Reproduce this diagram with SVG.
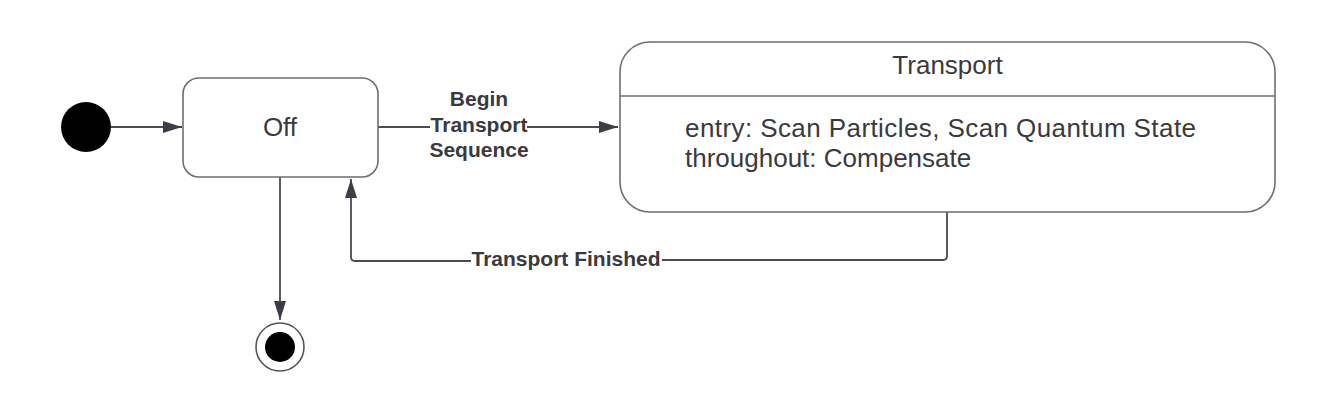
<svg xmlns="http://www.w3.org/2000/svg" width="1319" height="402" viewBox="0 0 1319 402">
<style>
.box{fill:#fff;stroke:#6e6e73;stroke-width:1.6}
.edge{fill:none;stroke:#4a4a52;stroke-width:1.8}
.t{font-family:"Liberation Sans",Arial,sans-serif;fill:#3a3a3e}
.reg{font-size:26px}
.lbl{font-size:21px;font-weight:bold;fill:#3a3a3e}
</style>
<defs>
<marker id="arr" markerUnits="userSpaceOnUse" markerWidth="20" markerHeight="14" refX="19" refY="6" orient="auto">
<path d="M0,0 L19,6 L0,12 Z" fill="#3d3d47"/>
</marker>
</defs>
<rect width="1319" height="402" fill="#fff"/>
<g id="connectors">
<line class="edge" x1="111" y1="127" x2="182" y2="127" marker-end="url(#arr)"/>
<path class="edge" d="M378,127 H430 M527,127 H618" marker-end="url(#arr)"/>
<path class="edge" d="M947,212 V256 Q947,260 943,260 H662 M471,261 H355 Q351,261 351,257 V179" marker-end="url(#arr)"/>
<line class="edge" x1="280" y1="177" x2="280" y2="320" marker-end="url(#arr)"/>
<text class="t lbl" text-anchor="middle" x="479" y="106">Begin</text>
<text class="t lbl" text-anchor="middle" x="479" y="132">Transport</text>
<text class="t lbl" text-anchor="middle" x="479" y="157">Sequence</text>
<text class="t lbl" text-anchor="middle" x="566" y="266">Transport Finished</text>
</g>
<g id="initial">
<circle cx="86" cy="127" r="25" fill="#000"/>
</g>
<g id="off">
<rect class="box" x="183" y="78" width="195" height="99" rx="16"/>
<text class="t reg" text-anchor="middle" x="280" y="136">Off</text>
</g>
<g id="transport">
<rect class="box" x="620" y="42" width="655" height="170" rx="30"/>
<line x1="620" y1="96" x2="1275" y2="96" stroke="#6e6e73" stroke-width="1.6"/>
<text class="t reg" text-anchor="middle" x="947.5" y="74">Transport</text>
<text class="t reg" x="685" y="137" textLength="511">entry: Scan Particles, Scan Quantum State</text>
<text class="t reg" x="685" y="167">throughout: Compensate</text>
</g>
<g id="final">
<circle cx="280" cy="347" r="24" fill="#fff" stroke="#55555c" stroke-width="1.6"/>
<circle cx="280" cy="347" r="15" fill="#000"/>
</g>
</svg>
